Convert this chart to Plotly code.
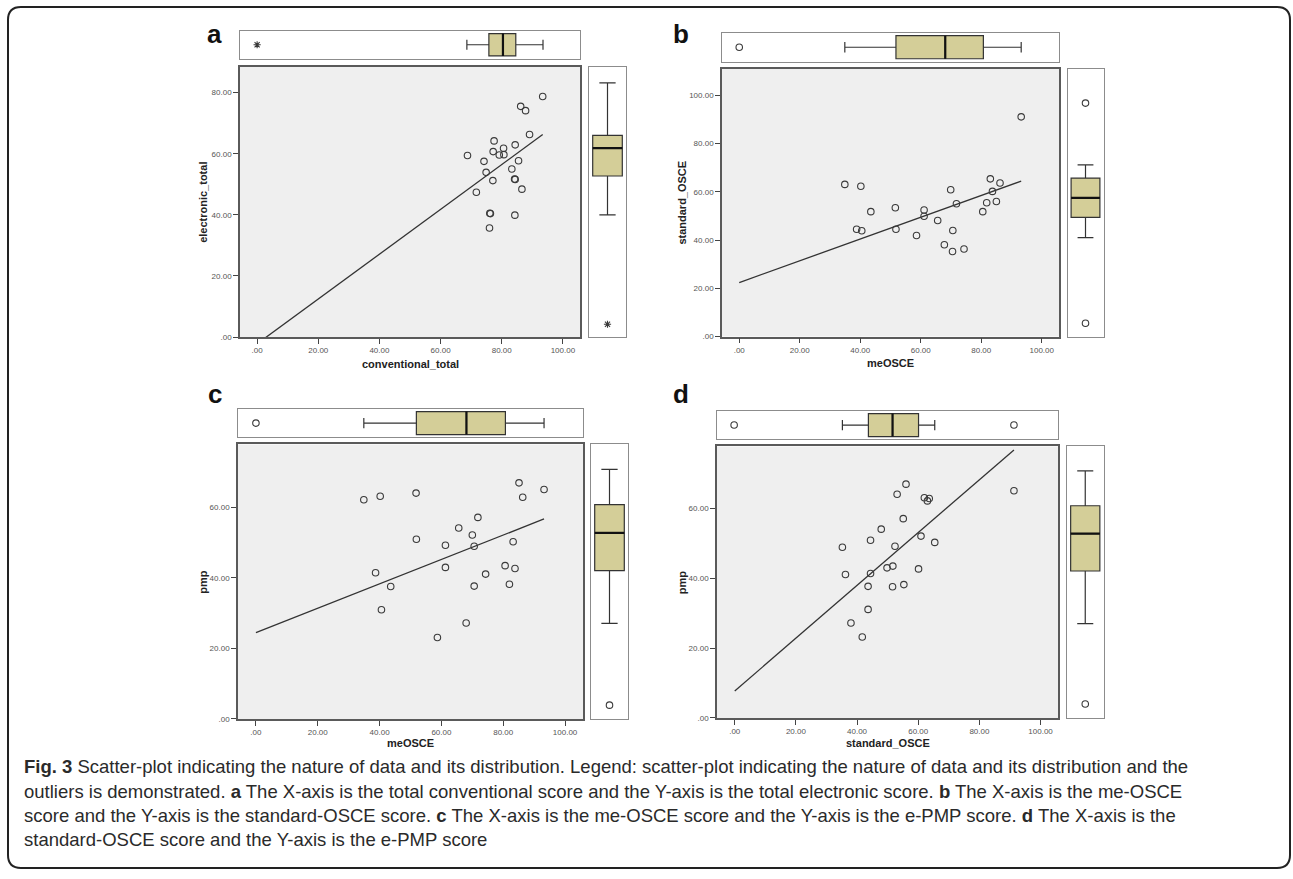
import plotly.graph_objects as go

W, H = 1293, 879

# ---------------- data ----------------
a_x = [93.4, 86.2, 87.8, 89.1, 77.5, 84.4, 80.6, 77.2, 79.2, 80.7, 68.8, 85.5,
       74.2, 83.3, 74.9, 84.4, 84.2, 77.1, 86.6, 71.7, 76.1, 76.3, 84.3, 76.0]
a_y = [78.7, 75.5, 74.1, 66.3, 64.2, 62.9, 61.8, 60.7, 59.6, 59.7, 59.4, 57.7,
       57.5, 55.0, 53.9, 51.6, 51.7, 51.2, 48.4, 47.4, 40.5, 40.4, 39.9, 35.7]

b_x = [93.2, 34.9, 40.2, 83.0, 86.2, 69.9, 83.7, 71.8, 81.8, 85.0, 43.5, 51.6,
       61.1, 61.1, 80.5, 38.8, 40.5, 51.8, 65.6, 70.6, 58.6, 67.8, 70.5, 74.3]
b_y = [91.1, 63.1, 62.3, 65.4, 63.7, 60.9, 60.2, 55.1, 55.5, 56.0, 51.8, 53.4,
       52.5, 49.9, 51.8, 44.5, 43.9, 44.5, 48.1, 44.0, 41.9, 38.1, 35.3, 36.3]

c_x = [34.9, 40.2, 51.8, 85.1, 86.3, 93.2, 71.8, 65.6, 70.0, 51.9, 83.2, 61.3,
       70.6, 61.3, 80.6, 83.8, 74.3, 38.7, 43.6, 40.6, 70.6, 82.0, 68.0, 58.7]
c_y = [62.2, 63.2, 64.1, 67.0, 62.9, 65.1, 57.2, 54.2, 52.2, 51.0, 50.3, 49.3,
       49.0, 43.0, 43.5, 42.7, 41.1, 41.5, 37.6, 31.0, 37.7, 38.2, 27.2, 23.1]

d_x = [91.3, 56.0, 53.1, 62.0, 63.6, 63.0, 55.1, 47.9, 60.9, 44.4, 65.4, 35.2,
       52.4, 49.8, 51.7, 60.1, 36.2, 44.4, 43.6, 51.6, 55.3, 43.6, 38.0, 41.7]
d_y = [65.1, 67.0, 64.1, 63.1, 62.9, 62.2, 57.1, 54.1, 52.1, 50.9, 50.3, 48.9,
       49.2, 43.0, 43.5, 42.7, 41.1, 41.4, 37.7, 37.6, 38.2, 31.1, 27.2, 23.2]

# fit lines: intercept, slope, x-extent
fit_intercept = [-2.2, 22.4, 24.5, 7.7]
fit_slope = [0.733, 0.451, 0.346, 0.757]
fit_x_end = [93.4, 93.2, 93.2, 91.3]

# marginal box plots: [lowerfence, q1, median, q3, upperfence]
top_box = [[68.6, 75.8, 80.4, 84.6, 93.5],
           [34.9, 51.8, 68.1, 80.7, 93.2],
           [34.9, 51.9, 68.1, 80.7, 93.2],
           [35.2, 43.7, 51.6, 60.1, 65.4]]
right_box = [[40.0, 52.7, 61.8, 66.0, 83.2],
             [41.0, 49.4, 57.5, 65.7, 71.2],
             [27.1, 42.1, 52.8, 60.8, 70.8],
             [27.0, 42.1, 52.8, 60.8, 70.8]]
top_outliers = [[0.0], [0.0], [0.0], [-0.2, 91.3]]
right_outliers = [[4.2], [96.8, 5.5], [3.9], [4.0]]
extreme_marker = [True, False, False, False]   # '*' in panel a

x_titles = ["conventional_total", "meOSCE", "meOSCE", "standard_OSCE"]
y_titles = ["electronic_total", "standard_OSCE", "pmp", "pmp"]
panel_letters = ["a", "b", "c", "d"]

x_tickvals = [0, 20, 40, 60, 80, 100]
x_ticktext = [".00", "20.00", "40.00", "60.00", "80.00", "100.00"]
y_tickvals = [[0, 20, 40, 60, 80], [0, 20, 40, 60, 80, 100], [0, 20, 40, 60], [0, 20, 40, 60]]
y_ticktext = [[".00", "20.00", "40.00", "60.00", "80.00"],
              [".00", "20.00", "40.00", "60.00", "80.00", "100.00"],
              [".00", "20.00", "40.00", "60.00"],
              [".00", "20.00", "40.00", "60.00"]]

x_ranges = [[-5.6, 105.6], [-5.7, 105.7], [-5.8, 105.8], [-5.8, 105.7]]
y_ranges = [[0, 88.5], [0, 111.1], [0, 77.9], [0, 77.8]]

caption_lines = [
    "<b>Fig. 3</b> Scatter-plot indicating the nature of data and its distribution. Legend: scatter-plot indicating the nature of data and its distribution and the",
    "outliers is demonstrated. <b>a</b> The X-axis is the total conventional score and the Y-axis is the total electronic score. <b>b</b> The X-axis is the me-OSCE",
    "score and the Y-axis is the standard-OSCE score. <b>c</b> The X-axis is the me-OSCE score and the Y-axis is the e-PMP score. <b>d</b> The X-axis is the",
    "standard-OSCE score and the Y-axis is the e-PMP score",
]

# ---------------- layout geometry (pixels) ----------------
scatter_px = [  # x0, x1, y0(top), y1(bottom)
    (240, 580, 67, 339),
    (722, 1059, 69, 338.5),
    (238, 583, 447, 723),
    (717, 1058, 449, 722),
]
topbox_py = [(31, 59), (33, 62), (411, 440), (413, 442)]
rightbox_px = [(589, 626), (1067.5, 1103.5), (591, 628), (1067, 1103.5)]
letter_pos = [(215, 45), (681, 45), (215, 407), (681, 407)]
xtitle_py = [366, 365, 747, 747]
ytitle_px = [203, 682, 203, 682]


def fx(px):
    return px / W


def fy(py):
    return 1 - py / H


fig = go.Figure()
layout = dict(
    width=W, height=H, margin=dict(l=0, r=0, t=0, b=0),
    paper_bgcolor="white", plot_bgcolor="white", showlegend=False,
    font=dict(family="Liberation Sans, Arial, sans-serif", color="#333"),
    shapes=[], annotations=[],
)

tick_font = dict(family="Liberation Sans, Arial", size=8, color="#555")
MARK = "#3a3a3a"
BOXFILL = "#d4ce98"

scat_x = [a_x, b_x, c_x, d_x]
scat_y = [a_y, b_y, c_y, d_y]

for i in range(4):
    ks, kt, kr = 3 * i + 1, 3 * i + 2, 3 * i + 3
    x0, x1, y0, y1 = scatter_px[i]
    sfx = lambda k: "" if k == 1 else str(k)

    # scatter axes
    layout["xaxis" + sfx(ks)] = dict(
        domain=[fx(x0), fx(x1)], anchor="y" + sfx(ks), range=x_ranges[i],
        tickvals=x_tickvals, ticktext=x_ticktext, tickfont=tick_font,
        ticks="outside", ticklen=5, tickcolor="#444", tickwidth=1,
        showline=True, linecolor="#5a5a5a", linewidth=1.6, mirror=True,
        showgrid=False, zeroline=False,
    )
    layout["yaxis" + sfx(ks)] = dict(
        domain=[fy(y1), fy(y0)], anchor="x" + sfx(ks), range=y_ranges[i],
        tickvals=y_tickvals[i], ticktext=y_ticktext[i], tickfont=tick_font,
        ticks="outside", ticklen=5, tickcolor="#444", tickwidth=1,
        showline=True, linecolor="#5a5a5a", linewidth=1.6, mirror=True,
        showgrid=False, zeroline=False,
    )
    # gray plot background
    layout["shapes"].append(dict(
        type="rect", xref="x" + sfx(ks) + " domain", yref="y" + sfx(ks) + " domain",
        x0=0, x1=1, y0=0, y1=1, fillcolor="#efefef", line=dict(width=0), layer="below"))

    # top box axes
    t0, t1 = topbox_py[i]
    layout["xaxis" + str(kt)] = dict(
        domain=[fx(x0), fx(x1)], anchor="y" + str(kt), range=x_ranges[i],
        showticklabels=False, ticks="", showline=True, linecolor="#8c8c8c", linewidth=1.2,
        mirror=True, showgrid=False, zeroline=False)
    layout["yaxis" + str(kt)] = dict(
        domain=[fy(t1), fy(t0)], anchor="x" + str(kt), range=[-0.5, 0.5],
        showticklabels=False, ticks="", showline=True, linecolor="#8c8c8c", linewidth=1.2,
        mirror=True, showgrid=False, zeroline=False)

    # right box axes
    r0, r1 = rightbox_px[i]
    layout["xaxis" + str(kr)] = dict(
        domain=[fx(r0), fx(r1)], anchor="y" + str(kr), range=[-0.5, 0.5],
        showticklabels=False, ticks="", showline=True, linecolor="#8c8c8c", linewidth=1.2,
        mirror=True, showgrid=False, zeroline=False)
    layout["yaxis" + str(kr)] = dict(
        domain=[fy(y1), fy(y0)], anchor="x" + str(kr), range=y_ranges[i],
        showticklabels=False, ticks="", showline=True, linecolor="#8c8c8c", linewidth=1.2,
        mirror=True, showgrid=False, zeroline=False)

    xs, ys = "x" + sfx(ks), "y" + sfx(ks)

    # fit line
    fxv = [0, fit_x_end[i]]
    fyv = [fit_intercept[i] + fit_slope[i] * v for v in fxv]
    fig.add_trace(go.Scatter(x=fxv, y=fyv, mode="lines", xaxis=xs, yaxis=ys,
                             line=dict(color="#333", width=1.3), hoverinfo="skip"))
    # points
    fig.add_trace(go.Scatter(x=scat_x[i], y=scat_y[i], mode="markers", xaxis=xs, yaxis=ys,
                             marker=dict(symbol="circle-open", size=6.5, color=MARK,
                                         line=dict(width=1.1, color=MARK))))

    # top box (horizontal)
    lf, q1, md, q3, uf = top_box[i]
    fig.add_trace(go.Box(orientation="h", y=[0], q1=[q1], median=[md], q3=[q3],
                         lowerfence=[lf], upperfence=[uf], width=0.8, whiskerwidth=0.45,
                         fillcolor=BOXFILL, line=dict(color="#333", width=1.2),
                         boxpoints=False, xaxis="x" + str(kt), yaxis="y" + str(kt)))
    fig.add_trace(go.Scatter(x=[md, md], y=[-0.4, 0.4], mode="lines",
                             line=dict(color="#111", width=2.2),
                             xaxis="x" + str(kt), yaxis="y" + str(kt), hoverinfo="skip"))
    sym = "asterisk-open" if extreme_marker[i] else "circle-open"
    fig.add_trace(go.Scatter(x=top_outliers[i], y=[0] * len(top_outliers[i]), mode="markers",
                             marker=dict(symbol=sym, size=6 if extreme_marker[i] else 6.5,
                                         color=MARK, line=dict(width=1.1, color=MARK)),
                             xaxis="x" + str(kt), yaxis="y" + str(kt)))

    # right box (vertical)
    lf, q1, md, q3, uf = right_box[i]
    fig.add_trace(go.Box(x=[0], q1=[q1], median=[md], q3=[q3],
                         lowerfence=[lf], upperfence=[uf], width=0.8, whiskerwidth=0.55,
                         fillcolor=BOXFILL, line=dict(color="#333", width=1.2),
                         boxpoints=False, xaxis="x" + str(kr), yaxis="y" + str(kr)))
    fig.add_trace(go.Scatter(x=[-0.4, 0.4], y=[md, md], mode="lines",
                             line=dict(color="#111", width=2.2),
                             xaxis="x" + str(kr), yaxis="y" + str(kr), hoverinfo="skip"))
    fig.add_trace(go.Scatter(x=[0] * len(right_outliers[i]), y=right_outliers[i], mode="markers",
                             marker=dict(symbol=sym, size=6 if extreme_marker[i] else 6.5,
                                         color=MARK, line=dict(width=1.1, color=MARK)),
                             xaxis="x" + str(kr), yaxis="y" + str(kr)))

    # axis titles
    layout["annotations"].append(dict(
        text="<b>%s</b>" % x_titles[i], x=fx((x0 + x1) / 2), y=fy(xtitle_py[i]),
        xref="paper", yref="paper", xanchor="center", yanchor="middle", showarrow=False,
        font=dict(size=11, color="#222", family="Liberation Sans, Arial")))
    layout["annotations"].append(dict(
        text="<b>%s</b>" % y_titles[i], x=fx(ytitle_px[i]), y=fy((y0 + y1) / 2),
        xref="paper", yref="paper", xanchor="center", yanchor="middle", showarrow=False,
        textangle=-90, font=dict(size=11, color="#222", family="Liberation Sans, Arial")))
    # panel letter
    lx, ly = letter_pos[i]
    layout["annotations"].append(dict(
        text="<b>%s</b>" % panel_letters[i], x=fx(lx), y=fy(ly + 6),
        xref="paper", yref="paper", xanchor="center", yanchor="bottom", showarrow=False,
        font=dict(size=26, color="#111", family="Liberation Sans, Arial")))

# caption
cap_y = [771, 796, 820, 844]
for line, py in zip(caption_lines, cap_y):
    layout["annotations"].append(dict(
        text=line, x=fx(22), y=fy(py), xref="paper", yref="paper",
        xanchor="left", yanchor="middle", align="left", showarrow=False,
        font=dict(size=18.5, color="#2a2a2a", family="Liberation Sans, Arial")))

# rounded outer frame
L, T, R, B, rad = 8, 7, 1290, 873, 13
pts = lambda x, y: "%.5f,%.5f" % (fx(x), fy(y))
path = ("M %s L %s Q %s %s L %s Q %s %s L %s Q %s %s L %s Q %s %s Z" % (
    pts(L + rad, T), pts(R - rad, T), pts(R, T), pts(R, T + rad),
    pts(R, B - rad), pts(R, B), pts(R - rad, B),
    pts(L + rad, B), pts(L, B), pts(L, B - rad),
    pts(L, T + rad), pts(L, T), pts(L + rad, T)))
layout["shapes"].append(dict(type="path", xref="paper", yref="paper", path=path,
                             line=dict(color="#222", width=2)))

fig.update_layout(**layout)
fig.write_html("out.html")
